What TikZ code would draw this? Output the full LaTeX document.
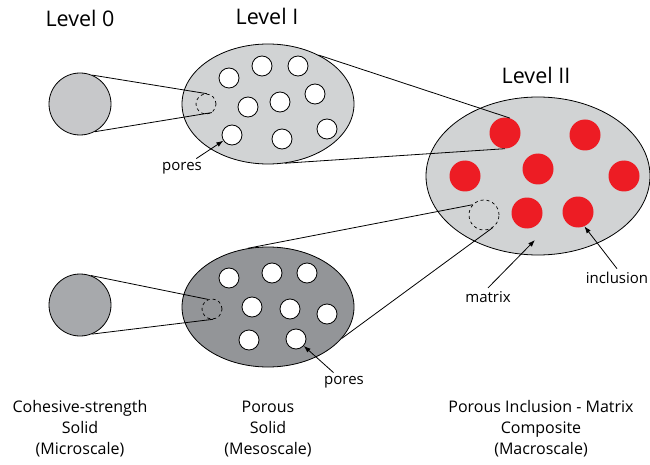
\documentclass[tikz,border=0pt]{standalone}
\usepackage{fontspec}
\setmainfont{Open Sans}
\usetikzlibrary{arrows.meta,shapes.geometric}
\definecolor{lightg}{HTML}{D1D3D4}
\definecolor{midg}{HTML}{C7C8CA}
\definecolor{darkc}{HTML}{A7A9AC}
\definecolor{darke}{HTML}{939598}
\definecolor{incred}{HTML}{ED1C24}
\begin{document}
\begin{tikzpicture}[x=1pt,y=-1pt,
  outl/.style={draw=black,line width=0.8pt},
  grain/.style={circle,outl,inner sep=0pt,minimum size=62pt},
  blob/.style={ellipse,outl,inner sep=0pt},
  hole/.style={circle,outl,fill=white,inner sep=0pt,minimum size=20pt},
  redinc/.style={circle,fill=incred,inner sep=0pt,minimum size=31pt},
  zoomc/.style={circle,draw=black,dashed,line width=0.7pt,inner sep=0pt},
  link/.style={draw=black,line width=0.8pt},
  ptr/.style={draw=black,line width=0.8pt,-{Latex[length=7pt,width=5pt]}},
  lvl/.style={font=\fontsize{21.5}{24}\selectfont},
  lab/.style={font=\fontsize{16}{21}\selectfont,align=center},
  small/.style={font=\fontsize{15}{18}\selectfont}]
\path[use as bounding box] (0,0) rectangle (650,465);

% level labels
\node[lvl] (L0) at (80,18) {Level 0};
\node[lvl] (L1) at (267,16) {Level I};
\node[lvl] (L2) at (536,75) {Level II};

% Level II ellipse
\node[blob,fill=lightg,minimum width=224pt,minimum height=158pt] (E3) at (538,176) {};
\node[redinc] (r1) at (505,133) {};
\node[redinc] (r2) at (585,135) {};
\node[redinc] (r3) at (465,176) {};
\node[redinc] (r4) at (538,169) {};
\node[redinc] (r5) at (624,176) {};
\node[redinc] (r6) at (527,213) {};
\node[redinc] (r7) at (578,212) {};
\node[zoomc,minimum size=30pt] (d3) at (484,215) {};

% top row
\node[grain,fill=midg] (c0) at (80,104) {};
\node[blob,fill=lightg,minimum width=172pt,minimum height=120pt] (E1) at (268,104) {};
\foreach \n/\x/\y in {a1/229/78,a2/262/66,a3/298/66,a4/248/107,a5/280/102,a6/315/94,a7/232/135,a8/282/139,a9/327/129}
  \node[hole] (\n) at (\x,\y) {};
\node[zoomc,minimum size=20pt] (d1) at (206,104) {};

% bottom row
\node[grain,fill=darkc] (c1) at (80,305) {};
\node[blob,fill=darke,minimum width=172pt,minimum height=120pt] (E2) at (268,307) {};
\foreach \n/\x/\y in {b1/229/278,b2/272/273,b3/307/273,b4/252/307,b5/290/309,b6/327/314,b7/249/340,b8/296/339}
  \node[hole] (\n) at (\x,\y) {};
\node[zoomc,minimum size=20pt] (d2) at (212,309) {};

% zoom connectors
\draw[link] (c0.67) -- (d1.85);
\draw[link] (c0.-62) -- (d1.-56);
\draw[link] (c1.70) -- (d2.112);
\draw[link] (c1.-68) -- (d2.-84);
\draw[link] (E1.44) -- (r1.72);
\draw[link] (E1.-74) -- (r1.-90);
\draw[link] (E2.109) -- (d3.138);
\draw[link] (E2.-23) -- (d3.-55);

% pointer labels
\node[small] (p1) at (182,168) {pores};
\draw[ptr] (p1) -- (a7);
\node[small] (p2) at (344,382) {pores};
\draw[ptr] (p2) -- (b8);
\node[small] (mx) at (488,297) {matrix};
\coordinate (mpt) at (535,240);
\draw[ptr] (mx.north) -- (mpt);
\node[small] (inc) at (617,278) {inclusion};
\draw[ptr] (inc.north) -- (r7.-66);

% captions
\node[lab] (t0) at (80,429) {Cohesive-strength\\Solid\\(Microscale)};
\node[lab] (t1) at (268,429) {Porous\\Solid\\(Mesoscale)};
\node[lab] (t2) at (541,429) {Porous Inclusion - Matrix\\Composite\\(Macroscale)};
\end{tikzpicture}
\end{document}
